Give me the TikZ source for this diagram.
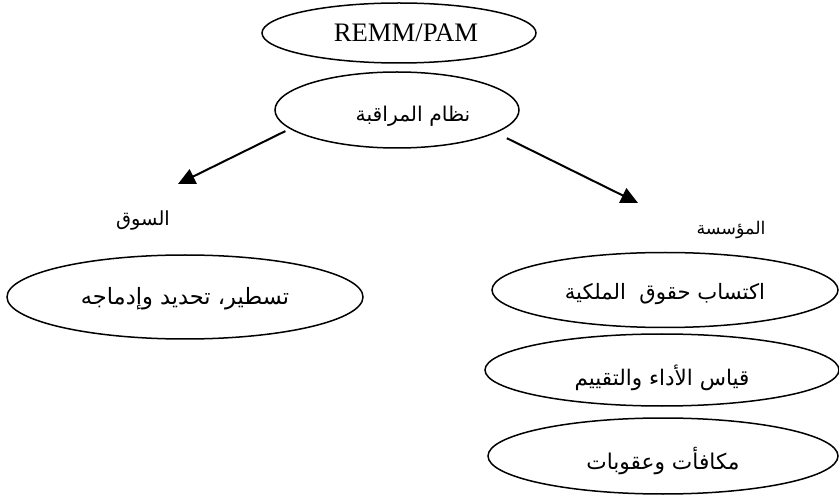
\documentclass[tikz,border=0pt]{standalone}
\usepackage{fontspec}
\setmainfont{Liberation Serif}
\newfontfamily\arabicfont[Script=Arabic]{DejaVu Sans}
\TeXXeTstate=1
\usetikzlibrary{shapes.geometric,arrows.meta}
\begin{document}
\begin{tikzpicture}[x=1pt,y=-1pt,
  oval/.style={draw, ellipse, line width=1.5pt, inner sep=0pt},
  conn/.style={line width=2pt, -{Triangle[length=17pt,width=16pt]}},
  ar/.style={font=\arabicfont\fontsize{#1}{26}\selectfont},
  ar/.default=21.5]
\useasboundingbox (0,0) rectangle (839,497);
\node[oval, minimum width=274pt, minimum height=60pt, font=\fontsize{26.7}{30}\selectfont] (remm) at (399,33) {\hspace*{14pt}REMM/PAM};
\node[oval, ar=20.3, minimum width=244pt, minimum height=76pt] (nizam) at (397,110) {\hspace*{32pt}\raisebox{-6pt}[\height][\depth]{\beginR نظام المراقبة\endR}};
\node[ar=19.4] (souq) at (143,220) {\beginR السوق\endR};
\node[ar=17.5] (muassasa) at (731,230) {\beginR المؤسسة\endR};
\node[oval, ar=22.5, minimum width=356pt, minimum height=84pt] (tastir) at (185,297) {\raisebox{-2pt}[\height][\depth]{\beginR تسطير، تحديد وإدماجه\endR}};
\node[oval, ar=21.2, minimum width=346pt, minimum height=75pt] (iktisab) at (665,290) {\raisebox{-4pt}[\height][\depth]{\beginR اكتساب حقوق\ \ الملكية\endR}};
\node[oval, ar=21.5, minimum width=354pt, minimum height=72pt] (qiyas) at (662,370) {\raisebox{-8pt}[\height][\depth]{\beginR قياس الأداء والتقييم\endR}};
\node[oval, ar=21.7, minimum width=350pt, minimum height=76pt] (mukafaat) at (663,456) {\raisebox{-5pt}[\height][\depth]{\beginR مكافأت وعقوبات\endR}};
\coordinate (tipL) at (178,184);
\coordinate (tipR) at (638,203);
\draw[conn, shorten <=5pt] (nizam.190) -- (tipL);
\draw[conn, shorten <=12pt] (nizam.347) -- (tipR);
\end{tikzpicture}
\end{document}
